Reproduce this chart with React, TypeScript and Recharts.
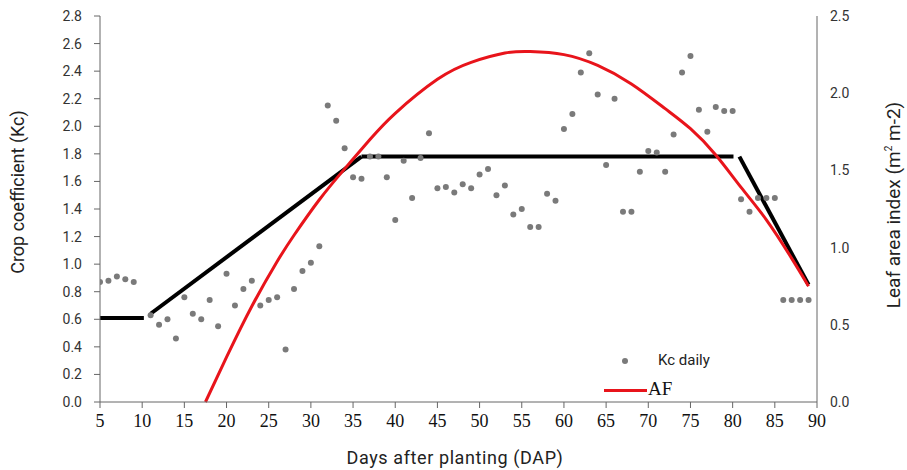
import React from 'react';
import { ComposedChart, Line, Scatter, XAxis, YAxis, Label } from 'recharts';

// Daily crop coefficient (Kc daily)
const kcDays = [5, 6, 7, 8, 9, 11, 12, 13, 14, 15, 16, 17, 18, 19, 20, 21, 22, 23, 24, 25, 26, 27, 28, 29, 30, 31, 32, 33, 34, 35, 36, 37, 38, 39, 40, 41, 42, 43, 44, 45, 46, 47, 48, 49, 50, 51, 52, 53, 54, 55, 56, 57, 58, 59, 60, 61, 62, 63, 64, 65, 66, 67, 68, 69, 70, 71, 72, 73, 74, 75, 76, 77, 78, 79, 80, 81, 82, 83, 84, 85, 86, 87, 88, 89];
const kcValues = [0.87, 0.88, 0.91, 0.89, 0.87, 0.63, 0.56, 0.60, 0.46, 0.76, 0.64, 0.60, 0.74, 0.55, 0.93, 0.70, 0.82, 0.88, 0.70, 0.74, 0.76, 0.38, 0.82, 0.95, 1.01, 1.13, 2.15, 2.04, 1.84, 1.63, 1.62, 1.78, 1.78, 1.63, 1.32, 1.75, 1.48, 1.77, 1.95, 1.55, 1.56, 1.52, 1.58, 1.55, 1.65, 1.69, 1.50, 1.57, 1.36, 1.40, 1.27, 1.27, 1.51, 1.46, 1.98, 2.09, 2.39, 2.53, 2.23, 1.72, 2.20, 1.38, 1.38, 1.67, 1.82, 1.81, 1.67, 1.94, 2.39, 2.51, 2.12, 1.96, 2.14, 2.11, 2.11, 1.47, 1.38, 1.48, 1.48, 1.48, 0.74, 0.74, 0.74, 0.74];

// Stage Kc curve (black), four segments
const kcIniDays = [5, 10.2];
const kcIniValues = [0.61, 0.61];
const kcDevDays = [11, 36];
const kcDevValues = [0.64, 1.78];
const kcMidDays = [36, 80.1];
const kcMidValues = [1.78, 1.78];
const kcLateDays = [80.8, 89];
const kcLateValues = [1.78, 0.85];

// Leaf area index (AF, red)
const afDays = [17.5, 20, 23, 26, 28, 31, 34, 37, 40, 45, 49, 53, 56, 60, 64, 68, 72, 75, 78, 81, 84, 87, 89];
const afValues = [0, 0.29, 0.62, 0.91, 1.08, 1.31, 1.51, 1.7, 1.87, 2.09, 2.2, 2.26, 2.27, 2.25, 2.18, 2.06, 1.9, 1.77, 1.6, 1.39, 1.18, 0.93, 0.75];

// Tick labels
const xTicks = [5, 10, 15, 20, 25, 30, 35, 40, 45, 50, 55, 60, 65, 70, 75, 80, 85, 90];
const kcTicks = [0, 0.2, 0.4, 0.6, 0.8, 1.0, 1.2, 1.4, 1.6, 1.8, 2.0, 2.2, 2.4, 2.6, 2.8];
const laiTicks = [0, 0.5, 1.0, 1.5, 2.0, 2.5];

const toKc = (d: number[], v: number[]) => d.map((day, i) => ({ day, kc: v[i] }));
const kcData = toKc(kcDays, kcValues);
const segIni = toKc(kcIniDays, kcIniValues);
const segDev = toKc(kcDevDays, kcDevValues);
const segMid = toKc(kcMidDays, kcMidValues);
const segLate = toKc(kcLateDays, kcLateValues);
const afData = afDays.map((day, i) => ({ day, lai: afValues[i] }));

const SANS = 'Roboto, "Liberation Sans", sans-serif';
const SERIF = '"Liberation Serif", "DejaVu Serif", serif';
const AXIS = '#666';

const Dot = (props: any) => {
  const { cx, cy } = props;
  if (cx == null || cy == null) return null;
  return <circle cx={cx} cy={cy} r={3} fill="#7a7a7a" />;
};

const LegendBox = () => (
  <div style={{ position: 'absolute', left: 600, top: 345, width: 140, height: 60 }}>
    <div style={{ position: 'absolute', left: 22, top: 13, width: 6, height: 6, borderRadius: 3, background: '#7a7a7a' }} />
    <div style={{ position: 'absolute', left: 58, top: 5, fontFamily: SANS, fontSize: 15, color: '#222', lineHeight: '20px', whiteSpace: 'nowrap' }}>Kc daily</div>
    <div style={{ position: 'absolute', left: 4, top: 44, width: 43, height: 3, background: '#e8141b' }} />
    <div style={{ position: 'absolute', left: 48, top: 33, fontFamily: SERIF, fontSize: 19, color: '#111', lineHeight: '22px' }}>AF</div>
  </div>
);

export default function App() {
  return (
    <div style={{ position: 'absolute', left: 0, top: 0, width: 907, height: 470, background: '#fff' }}>
      <ComposedChart width={907} height={470} margin={{ top: 16, right: 0, bottom: 0, left: 0 }}>
        <XAxis
          dataKey="day"
          type="number"
          domain={[5, 90]}
          ticks={xTicks}
          allowDataOverflow
          height={68}
          stroke={AXIS}
          tickSize={6}
          tickMargin={6}
          tick={{ fontFamily: SERIF, fontSize: 18, fill: '#111' }}
        >
          <Label
            content={() => (
              <text x={455} y={464} textAnchor="middle" fontFamily={SANS} fontSize={18} fill="#222" letterSpacing={0.6}>
                Days after planting (DAP)
              </text>
            )}
          />
        </XAxis>
        <YAxis
          yAxisId="left"
          orientation="left"
          domain={[0, 2.8]}
          ticks={kcTicks}
          width={100}
          stroke={AXIS}
          tickSize={6}
          tickMargin={12}
          tickFormatter={(v: number) => v.toFixed(1)}
          tick={{ fontFamily: SANS, fontSize: 14, fill: '#333' }}
        >
          <Label
            content={() => (
              <text x={24} y={192} textAnchor="middle" fontFamily={SANS} fontSize={18} fill="#222" transform="rotate(-90 24 192)">
                Crop coefficient (Kc)
              </text>
            )}
          />
        </YAxis>
        <YAxis
          yAxisId="right"
          orientation="right"
          domain={[0, 2.5]}
          ticks={laiTicks}
          width={90}
          stroke={AXIS}
          tickLine={false}
          tickSize={0}
          tickMargin={13}
          tickFormatter={(v: number) => v.toFixed(1)}
          tick={{ fontFamily: SANS, fontSize: 14, fill: '#333' }}
        >
          <Label
            content={() => (
              <text x={900} y={205} textAnchor="middle" fontFamily={SANS} fontSize={19} fill="#222" transform="rotate(-90 900 205)">
                <tspan>Leaf area index (m</tspan>
                <tspan dy={-8} fontSize={10}>2</tspan>
                <tspan dy={8}> m-2)</tspan>
              </text>
            )}
          />
        </YAxis>
        <Scatter yAxisId="left" data={kcData} dataKey="kc" name="Kc daily" shape={Dot} isAnimationActive={false} />
        <Line yAxisId="left" data={segIni} dataKey="kc" type="linear" stroke="#000" strokeWidth={4} dot={false} isAnimationActive={false} />
        <Line yAxisId="left" data={segDev} dataKey="kc" type="linear" stroke="#000" strokeWidth={4} dot={false} isAnimationActive={false} />
        <Line yAxisId="left" data={segMid} dataKey="kc" type="linear" stroke="#000" strokeWidth={4} dot={false} isAnimationActive={false} />
        <Line yAxisId="left" data={segLate} dataKey="kc" type="linear" stroke="#000" strokeWidth={4} dot={false} isAnimationActive={false} />
        <Line yAxisId="right" data={afData} dataKey="lai" name="AF" type="natural" stroke="#e8141b" strokeWidth={3} dot={false} isAnimationActive={false} />
      </ComposedChart>
      <LegendBox />
    </div>
  );
}
